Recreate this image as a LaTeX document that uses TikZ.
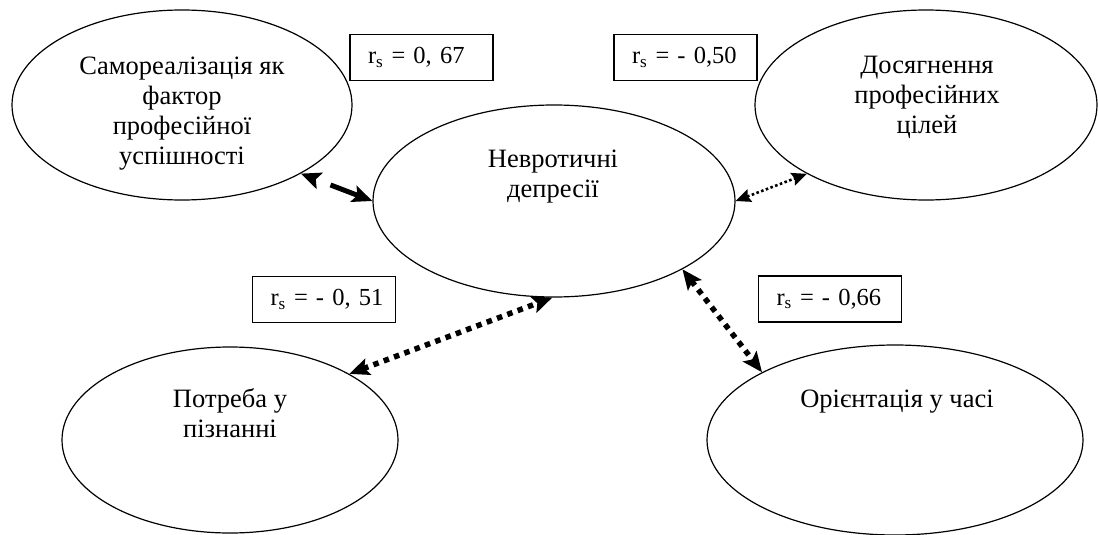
\documentclass[tikz,border=0pt]{standalone}
\usepackage{fontspec}
\setmainfont{Liberation Serif}
\newfontfamily\labelfont{Liberation Serif}
\usetikzlibrary{shapes.geometric,arrows.meta}

\begin{document}
\begin{tikzpicture}[x=1pt,y=-1pt,
  bubble/.style={draw, ellipse, line width=1.2pt, inner sep=0pt},
  caption/.style={align=center, anchor=base, inner sep=0pt,
    font=\labelfont\fontsize{26.5}{30}\selectfont},
  coef/.style={draw, line width=1.2pt, inner xsep=18pt, inner ysep=0pt,
    text width=107pt, align=left, minimum height=46pt,
    font=\labelfont\fontsize{24.5}{28}\selectfont},
  bigtip/.tip={Stealth[length=20pt,width=17pt,inset=4pt]},
  smalltip/.tip={Stealth[length=15pt,width=13pt,inset=2pt]},
  dashlink/.style={line width=5pt, bigtip-bigtip,
    dash pattern=on 30pt off 17pt, dash phase=30pt},
  finedots/.style={line width=2.6pt, smalltip-smalltip,
    dash pattern=on 2.6pt off 2.4pt},
  bolddots/.style={line width=5.5pt, bigtip-bigtip,
    dash pattern=on 5.5pt off 5.5pt}
]
\useasboundingbox (0,0) rectangle (1098,535);

% factor ellipses
\node[bubble, minimum width=340pt, minimum height=190pt] (self)  at (182,105) {};
\node[bubble, minimum width=342pt, minimum height=190pt] (goals) at (926,105) {};
\node[bubble, minimum width=362pt, minimum height=192pt] (dep)   at (554,201) {};
\node[bubble, minimum width=336pt, minimum height=186pt] (cog)   at (230,440) {};
\node[bubble, minimum width=376pt, minimum height=190pt] (time)  at (895,440) {};

% ellipse captions (anchored at the baseline of the last line)
\node[caption] (selft)  at (182,164) {Самореалізація як\\фактор\\професійної\\успішності};
\node[caption] (goalst) at (927,133) {Досягнення\\професійних\\цілей};
\node[caption] (dept)   at (553,197) {Невротичні\\депресії};
\node[caption] (cogt)   at (230,437) {Потреба у\\пізнанні};
\node[caption] (timet)  at (897,407) {Орієнтація у часі};

% correlation coefficients
\node[coef] (k1) at (421.5,57.5) {\mbox{r\textsubscript{s} = 0, 67}};
\node[coef] (k2) at (685.5,57.5) {\mbox{r\textsubscript{s} = - 0,50}};
\node[coef] (k3) at (324,299.5)  {\mbox{r\textsubscript{s} = - 0, 51}};
\node[coef] (k4) at (830,299)    {\mbox{r\textsubscript{s} = - 0,66}};

% links
\draw[dashlink] (self.-30) -- (dep.180);
\draw[finedots] (dep.0) -- (goals.210);
\draw[bolddots] (cog.29) -- (dep.-91);
\draw[bolddots] (dep.-28) -- (time.153);
\end{tikzpicture}
\end{document}
